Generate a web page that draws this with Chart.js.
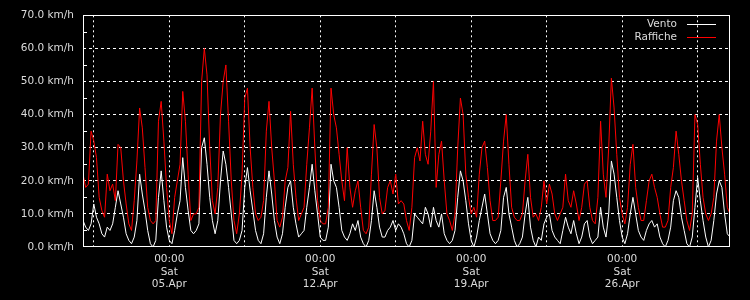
<!DOCTYPE html>
<html><head><meta charset="utf-8">
<script src="https://cdn.jsdelivr.net/npm/chart.js@4.4.1/dist/chart.umd.min.js"></script>
<style>html,body{margin:0;padding:0;background:#000;}#wrap{width:750px;height:300px;}</style>
</head><body><div id="wrap"><canvas id="c" width="750" height="300"></canvas></div>
<script>
// Samples every 3 hours from Tue 01.Apr 00:00 (hour 0) to Thu 01.May 00:00 (hour 720)
const seriesNames = ['Vento', 'Raffiche'];
const vento = [
  8,6,5,7,13,9,7,4,
  3,6,5,7,12,17,13,9,
  4,2,1,3,8,22,16,11,
  5,1,0,2,15,23,14,6,
  2,1,5,10,14,27,18,11,
  5,4,5,7,30,33,25,15,
  8,4,8,20,29,25,18,10,
  2,1,2,5,18,24,17,11,
  5,2,1,4,15,23,16,8,
  3,1,4,12,18,20,12,7,
  3,4,5,12,18,25,17,10,
  3,2,2,6,25,20,18,12,
  5,3,2,4,7,5,8,3,
  1,0,2,8,17,12,6,3,
  3,5,6,8,5,7,6,4,
  1,0,2,10,9,8,7,12,
  10,6,12,8,6,10,4,2,
  1,2,5,15,23,20,14,7,
  2,0,3,8,12,16,10,4,
  2,1,2,5,15,18,10,6,
  2,0,1,3,10,15,6,2,
  0,3,2,7,9,10,5,3,
  2,1,5,9,6,4,8,4,
  1,3,7,8,3,1,2,3,
  12,6,3,10,26,22,15,8,
  3,1,4,10,15,10,5,3,
  2,5,7,8,6,7,3,1,
  0,2,6,14,17,15,9,5,
  1,0,3,12,21,14,8,3,
  0,2,8,16,20,18,10,4,
  3
];
const raffiche = [
  22,18,19,35,32,27,15,11,
  9,22,17,19,14,31,30,20,
  13,7,5,14,26,42,36,24,
  12,8,7,8,38,44,32,18,
  8,4,15,20,25,47,38,22,
  8,10,10,12,50,60,52,30,
  14,10,18,40,50,55,38,20,
  8,4,10,22,45,48,30,18,
  10,8,9,14,35,44,30,20,
  8,6,9,20,24,41,25,15,
  8,10,12,25,36,48,30,14,
  8,7,7,12,48,40,36,28,
  20,14,30,18,12,17,20,12,
  5,4,6,22,37,30,15,10,
  11,18,20,16,22,13,14,13,
  8,5,12,27,30,26,38,28,
  25,35,50,18,28,32,20,10,
  8,5,10,30,45,40,22,15,
  10,12,9,22,30,32,24,14,
  8,8,9,20,32,40,25,12,
  9,8,8,10,20,28,15,9,
  10,8,12,20,13,19,16,10,
  8,10,12,22,14,12,17,13,
  8,12,19,20,12,8,7,15,
  38,22,15,30,51,42,28,15,
  10,7,12,25,31,18,12,8,
  8,14,20,22,18,15,10,6,
  6,8,18,24,35,28,20,14,
  8,5,10,40,37,25,15,10,
  8,10,15,32,40,30,22,12,
  10
];
const sampleHours = vento.map((_, i) => i * 3);
const tickHours = [12, 96, 180, 264, 348, 432, 516, 600, 684];
const tickLabels = ['', ['00:00','Sat','05.Apr'], '', ['00:00','Sat','12.Apr'], '', ['00:00','Sat','19.Apr'], '', ['00:00','Sat','26.Apr'], ''];
const yMinorTicks = [5, 15, 25, 35, 45, 55, 65];

const TXT = '#dcdcdc';
const FONT = {family: 'DejaVu Sans', size: 10.5};

const bgPlugin = {
  id: 'bg',
  beforeDraw(chart) {
    const c = chart.ctx;
    c.save(); c.fillStyle = '#000'; c.fillRect(0, 0, chart.width, chart.height); c.restore();
  }
};
const framePlugin = {
  id: 'frame',
  afterDraw(chart) {
    const c = chart.ctx, a = chart.chartArea, y = chart.scales.y;
    c.save();
    c.strokeStyle = '#fff'; c.lineWidth = 1;
    c.strokeRect(Math.round(a.left) + 0.5, Math.round(a.top) + 0.5, Math.round(a.right - a.left) - 1, Math.round(a.bottom - a.top) - 1);
    c.beginPath();
    yMinorTicks.forEach(v => {
      const p = Math.round(y.getPixelForValue(v)) + 0.5;
      c.moveTo(a.left, p); c.lineTo(a.left + 4, p);
    });
    c.stroke();
    // legend
    c.font = '10.5px "DejaVu Sans"';
    c.textAlign = 'right'; c.textBaseline = 'middle';
    chart.data.datasets.forEach((ds, i) => {
      const yy = Math.round(a.top + 9 + i * 13) + 0.5;
      c.fillStyle = TXT;
      c.fillText(ds.label, a.right - 53, yy);
      c.strokeStyle = ds.borderColor;
      c.beginPath(); c.moveTo(a.right - 43, yy); c.lineTo(a.right - 14, yy); c.stroke();
    });
    c.restore();
  }
};

new Chart(document.getElementById('c'), {
  type: 'line',
  data: {
    datasets: [
      {label: seriesNames[0], data: sampleHours.map((h, i) => ({x: h, y: vento[i]})), borderColor: '#ffffff', borderWidth: 1, pointRadius: 0, tension: 0, order: 2},
      {label: seriesNames[1], data: sampleHours.map((h, i) => ({x: h, y: raffiche[i]})), borderColor: '#ff0000', borderWidth: 1, pointRadius: 0, tension: 0, order: 1}
    ]
  },
  options: {
    responsive: false,
    animation: false,
    devicePixelRatio: 1,
    layout: {padding: {left: 0, right: 20, top: 13, bottom: 0}},
    plugins: {legend: {display: false}, tooltip: {enabled: false}},
    scales: {
      x: {
        type: 'linear', min: 0, max: 720,
        afterBuildTicks(s) { s.ticks = tickHours.map(v => ({value: v})); },
        afterFit(s) { s.height = 53; },
        ticks: {
          autoSkip: false, maxRotation: 0, padding: 6, color: TXT, font: FONT,
          callback(v) { const i = tickHours.indexOf(v); return i >= 0 ? tickLabels[i] : ''; }
        },
        grid: {color: '#ffffff', lineWidth: 1, drawTicks: false},
        border: {display: false, dash: [2, 3]}
      },
      y: {
        min: 0, max: 70,
        afterFit(s) { s.width = 83; },
        ticks: {stepSize: 10, padding: 9, color: TXT, font: FONT, callback: v => v.toFixed(1) + ' km/h'},
        grid: {
          color: ctx => (ctx.tick && (ctx.tick.value === 0 || ctx.tick.value === 70)) ? 'rgba(0,0,0,0)' : '#ffffff',
          lineWidth: 1, drawTicks: false
        },
        border: {display: false, dash: [3, 3]}
      }
    }
  },
  plugins: [bgPlugin, framePlugin]
});
</script></body></html>
